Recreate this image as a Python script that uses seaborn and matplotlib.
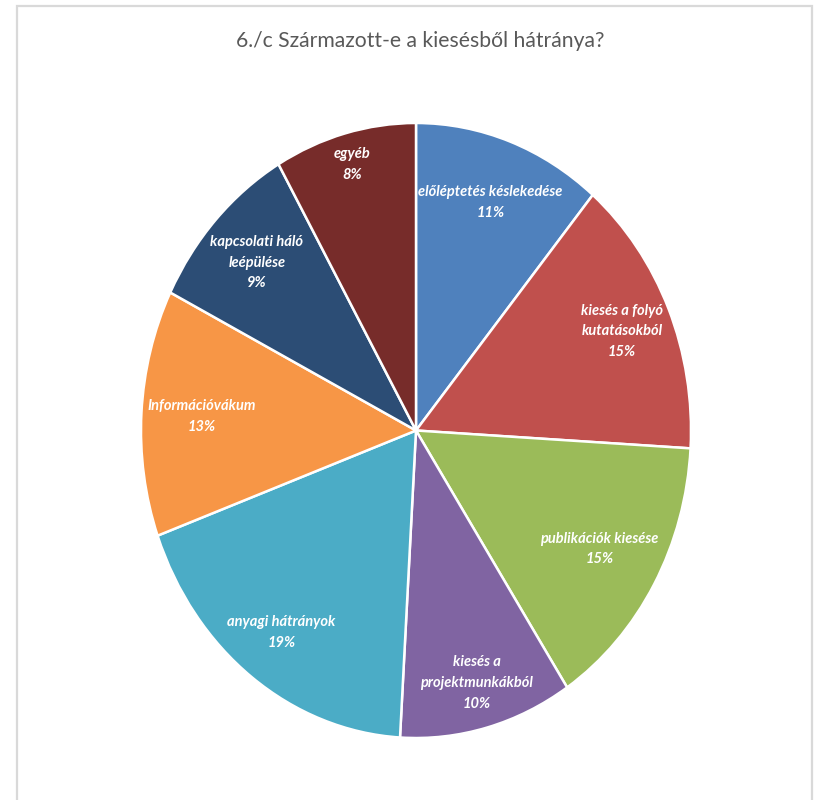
import matplotlib
matplotlib.use("Agg")
import numpy as np
import matplotlib.pyplot as plt
import seaborn as sns
from matplotlib.patches import Rectangle

sns.set_theme(style="white")
plt.rcParams['font.family'] = ['Lato', 'DejaVu Sans']

categories = ['előléptetés késlekedése', 'kiesés a folyó\nkutatásokból', 'publikációk kiesése',
              'kiesés a\nprojektmunkákból', 'anyagi hátrányok', 'Információvákum',
              'kapcsolati háló\nleépülése', 'egyéb']
# answer counts (they give the rounded percentages shown)
counts = [12, 16, 16, 11, 20, 14, 10, 9]
colors = ['#4F81BD', '#C0504D', '#9BBB59', '#8064A2', '#4BACC6', '#F79646', '#2C4D75', '#772C2A']
title = '6./c Származott-e a kiesésből hátránya?'

# how far out from the centre each data label sits (fraction of radius)
label_r = [0.79, 0.815, 0.77, 0.85, 0.82, 0.78, 0.795, 0.895]

total = sum(counts)
labels = [f"{c}\n{round(100 * n / total + 1e-9):.0f}%" for c, n in zip(categories, counts)]

fig = plt.figure(figsize=(8.17, 8), dpi=100)
fig.patch.set_facecolor('white')
fig.patches.append(Rectangle((17 / 817, -0.05), (812 - 17) / 817, 0.05 + 1 - 6 / 800,
                             transform=fig.transFigure, fill=False,
                             edgecolor='#D9D9D9', linewidth=1.6, zorder=0))

ax = fig.add_axes([141 / 817, 1 - 738 / 800, (691 - 141) / 817, (738 - 123) / 800])
wedges, texts = ax.pie(counts, labels=labels, colors=colors, startangle=90, counterclock=False,
                       labeldistance=0.8, radius=1,
                       wedgeprops=dict(edgecolor='white', linewidth=1.8),
                       textprops=dict(color='white', fontsize=10.5, fontweight='bold',
                                      fontstyle='italic', ha='center', va='center',
                                      multialignment='center', linespacing=1.6))
for w, t, r in zip(wedges, texts, label_r):
    mid = np.deg2rad((w.theta1 + w.theta2) / 2)
    t.set_position((r * np.cos(mid), r * np.sin(mid)))

ax.set_aspect('auto')
ax.set_xlim(-1, 1)
ax.set_ylim(-1, 1)
ax.axis('off')

fig.text(420 / 817, 1 - 41 / 800, title, ha='center', va='center', fontsize=15.2, color='#595959')

fig.savefig('out.png', dpi=100)
